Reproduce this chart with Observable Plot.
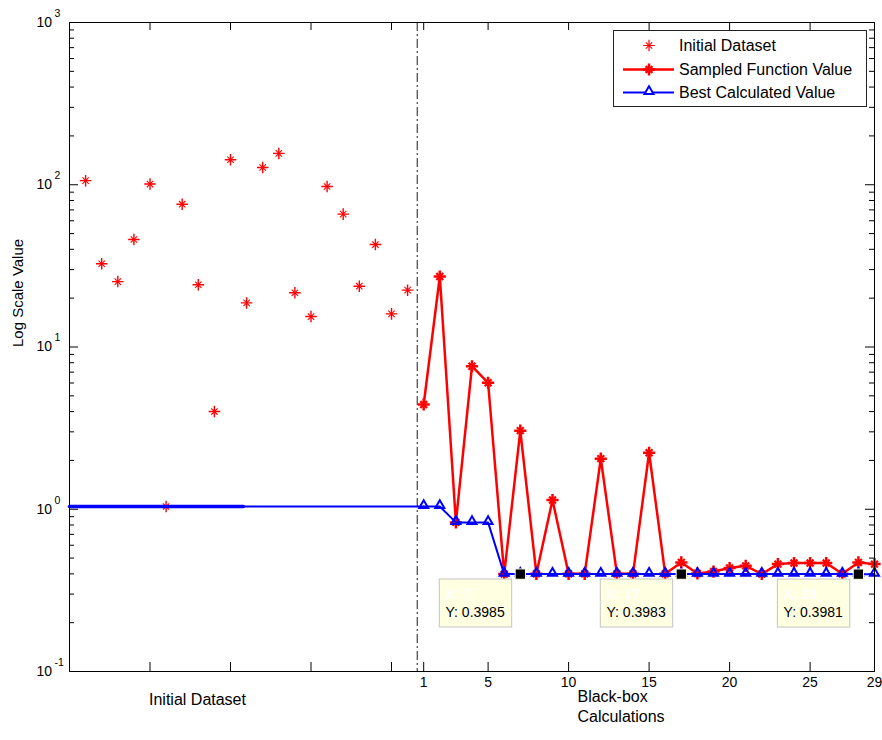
<!DOCTYPE html>
<html><head><meta charset="utf-8">
<script src="https://cdn.jsdelivr.net/npm/d3@7"></script>
<script src="https://cdn.jsdelivr.net/npm/@observablehq/plot@0.6"></script>
<style>
body{margin:0;background:#fff;font-family:"Liberation Sans",Arial,sans-serif;}
#wrap{position:relative;width:882px;height:740px;}
</style></head><body><div id="wrap"></div>
<script>
// ---- data ----
const initIdx = [-20,-19,-18,-17,-16,-15,-14,-13,-12,-11,-10,-9,-8,-7,-6,-5,-4,-3,-2,-1,0];
const initVal = [106,32.6,25.3,46,101,1.04,75.9,24.2,4.0,142.5,18.7,127.7,156,21.6,15.4,97.5,65.9,23.7,42.8,16.0,22.4];
const bbIdx = [1,2,3,4,5,6,7,8,9,10,11,12,13,14,15,16,17,18,19,20,21,22,23,24,25,26,27,28,29];
const sampledVal = [4.42,27.2,0.83,7.61,6.02,0.3985,3.05,0.40,1.14,0.40,0.40,2.05,0.40,0.40,2.23,0.40,
                    0.47,0.402,0.413,0.434,0.448,0.399,0.459,0.466,0.466,0.466,0.400,0.47,0.459];
const bestVal = [1.04,1.04,0.83,0.83,0.83,0.3985,0.3985,0.3985,0.3985,0.3985,0.3985,0.3985,0.3985,0.3985,0.3985,0.3985,
                 0.3983,0.3983,0.3983,0.3983,0.3983,0.3983,0.3983,0.3983,0.3983,0.3983,0.3983,0.3981,0.3981];
const initBestIdx = [-21, 1];
const initBestVal = [1.04, 1.04];
const initBestThickIdx = [-21, -10.2];
const tipIdx = [7, 17, 28];
const tipVal = [0.3985, 0.3983, 0.3981];
const yMajor = [0.1, 1, 10, 100, 1000];
const yExp = ["-1", "0", "1", "2", "3"];
const yMinorMult = [2,3,4,5,6,7,8,9];
const xTicksInit = [-16, -11, -6, -1];
const xTicksBB = [1, 5, 10, 15, 20, 25, 29];
const boundaryX = 0.6;
const xDomain = [-21, 29];
const yDomain = [0.1, 1000];
const xLabelInit = {x: -13.05, text: "Initial Dataset"};
const xLabelBB = {x: 10.55, text: "Black-box\nCalculations"};
const yLabel = "Log Scale Value";
const legendItems = [
  {label: "Initial Dataset", color: "red", line: false, sw: 1.2, symbol: "asterisk"},
  {label: "Sampled Function Value", color: "red", line: true, sw: 2.5, symbol: "asterisk"},
  {label: "Best Calculated Value", color: "blue", line: true, sw: 2, symbol: "triangle"}
];

// ---- derived tables ----
const initData = initIdx.map((x, i) => ({x, y: initVal[i]}));
const bbData = bbIdx.map((x, i) => ({x, s: sampledVal[i], b: bestVal[i]}));
const initBest = initBestIdx.map((x, i) => ({x, y: initBestVal[i]}));
const initBestThick = initBestThickIdx.map(x => ({x, y: initBestVal[0]}));
const tips = tipIdx.map((x, i) => ({x, y: tipVal[i]}));
const yTicks = yMajor.map((v, i) => ({v, e: yExp[i]}));
const yMinor = yMajor.slice(0, -1).flatMap(d => yMinorMult.map(m => d * m));
const xTicksAll = [...xTicksInit, ...xTicksBB];

// ---- layout ----
const W = 882, H = 740, mL = 69, mT = 22, mR = 8, mB = 69;
const pw = W - mL - mR, ph = H - mT - mB;
const font = '"Liberation Sans", Arial, sans-serif';

const plot = Plot.plot({
  width: W, height: H, marginLeft: mL, marginTop: mT, marginRight: mR, marginBottom: mB,
  style: {fontFamily: font, background: "white", overflow: "visible", color: "black"},
  x: {domain: xDomain, axis: null},
  y: {type: "log", domain: yDomain, axis: null},
  marks: [
    // ticks inward
    Plot.tickY(yMajor, {y: d => d, insetRight: pw - 9, stroke: "black"}),
    Plot.tickY(yMinor, {y: d => d, insetRight: pw - 5, stroke: "black"}),
    Plot.tickY(yMajor, {y: d => d, insetLeft: pw - 9, stroke: "black"}),
    Plot.tickY(yMinor, {y: d => d, insetLeft: pw - 5, stroke: "black"}),
    Plot.tickX(xTicksAll, {x: d => d, insetTop: ph - 9, stroke: "black"}),
    Plot.tickX(xTicksAll, {x: d => d, insetBottom: ph - 8, stroke: "black"}),
    // tick labels
    Plot.text(yTicks, {y: "v", frameAnchor: "left", text: () => "10", textAnchor: "end", dx: -17.5, dy: 0, fontSize: 14}),
    Plot.text(yTicks, {y: "v", frameAnchor: "left", text: "e", textAnchor: "start", dx: -15, dy: -9, fontSize: 10.5}),
    Plot.text(xTicksBB, {x: d => d, frameAnchor: "bottom", text: d => String(d), dy: 15, fontSize: 14}),
    // axis titles
    Plot.text([yLabel], {frameAnchor: "left", text: d => d, dx: -51, rotate: -90, fontSize: 15}),
    Plot.text([xLabelInit], {x: "x", frameAnchor: "bottom", text: "text", dy: 33, fontSize: 16}),
    Plot.text([xLabelBB], {x: "x", frameAnchor: "bottom", text: "text", textAnchor: "start", dy: 50, lineHeight: 1.25, fontSize: 16}),
    // boundary
    Plot.ruleX([boundaryX], {x: d => d, stroke: "#444", strokeWidth: 1.2, strokeDasharray: "9,3,2,3"}),
    // initial dataset
    Plot.dot(initData, {x: "x", y: "y", symbol: "plus", r: 3.8, stroke: "red", strokeWidth: 1.4}),
    Plot.dot(initData, {x: "x", y: "y", symbol: "times", r: 3, stroke: "red", strokeWidth: 1.1}),
    // best line over initial dataset
    Plot.line(initBest, {x: "x", y: "y", stroke: "blue", strokeWidth: 2}),
    Plot.line(initBestThick, {x: "x", y: "y", stroke: "blue", strokeWidth: 3.5}),
    // sampled function
    Plot.line(bbData, {x: "x", y: "s", stroke: "red", strokeWidth: 2.5}),
    Plot.dot(bbData, {x: "x", y: "s", symbol: "plus", r: 4, stroke: "red", strokeWidth: 2.5}),
    Plot.dot(bbData, {x: "x", y: "s", symbol: "times", r: 3.2, stroke: "red", strokeWidth: 2.2}),
    // best calculated
    Plot.line(bbData, {x: "x", y: "b", stroke: "blue", strokeWidth: 2}),
    Plot.dot(bbData, {x: "x", y: "b", symbol: "triangle2", r: 4.3, stroke: "blue", strokeWidth: 2, fill: "none", dy: -1}),
    // datatips
    Plot.rect(tips, {x1: "x", x2: "x", y1: "y", y2: "y", dx: -80.5, dy: 5.4, insetRight: -72.4, insetBottom: -48,
                     fill: "#ffffe1", stroke: "#c4c4c4"}),
    Plot.text(tips, {x: "x", y: "y", text: d => "X: " + d.x, textAnchor: "start", dx: -74.8, dy: 20, fontSize: 14, fontWeight: "bold", fill: "white"}),
    Plot.text(tips, {x: "x", y: "y", text: d => "Y: " + d.y.toFixed(4), textAnchor: "start", dx: -74.8, dy: 38, fontSize: 14, fill: "black"}),
    Plot.dot(tips, {x: "x", y: "y", symbol: "square", r: 5.8, fill: "black", stroke: "#ffffe1", strokeWidth: 1}),
    Plot.frame({stroke: "black"})
  ]
});

const wrap = document.getElementById("wrap");
wrap.appendChild(plot);

// ---- legend overlay ----
const lw = 254, lh = 77;
const leg = d3.create("svg").attr("width", lw).attr("height", lh)
  .style("position", "absolute").style("left", "613px").style("top", "30px");
leg.append("rect").attr("x", 0.5).attr("y", 0.5).attr("width", lw - 1).attr("height", lh - 1)
  .attr("fill", "white").attr("stroke", "#222");
const rowY = [15.5, 39.5, 62.5];
legendItems.forEach((it, i) => {
  const g = leg.append("g").attr("transform", `translate(0,${rowY[i]})`);
  if (it.line) g.append("line").attr("x1", 10).attr("x2", 61).attr("y1", 0).attr("y2", 0)
    .attr("stroke", it.color).attr("stroke-width", it.sw);
  const m = g.append("g").attr("transform", "translate(36,0)");
  if (it.symbol === "asterisk") {
    const rp = it.line ? 4 : 3.8, rt = it.line ? 3.2 : 3;
    m.append("path").attr("d", d3.symbol(d3.symbolPlus, Math.PI * rp * rp)()).attr("fill", "none")
      .attr("stroke", it.color).attr("stroke-width", it.sw);
    m.append("path").attr("d", d3.symbol(d3.symbolTimes, Math.PI * rt * rt)()).attr("fill", "none")
      .attr("stroke", it.color).attr("stroke-width", it.sw * 0.9);
  } else {
    m.append("path").attr("d", d3.symbol(d3.symbolTriangle2, Math.PI * 4.3 * 4.3)()).attr("transform", "translate(0,-1)")
      .attr("fill", "white").attr("stroke", it.color).attr("stroke-width", it.sw);
  }
  g.append("text").attr("x", 66).attr("y", 0).attr("dy", "0.35em").attr("font-size", 16)
    .attr("font-family", font).attr("fill", "black").text(it.label);
});
wrap.appendChild(leg.node());
</script></body></html>
